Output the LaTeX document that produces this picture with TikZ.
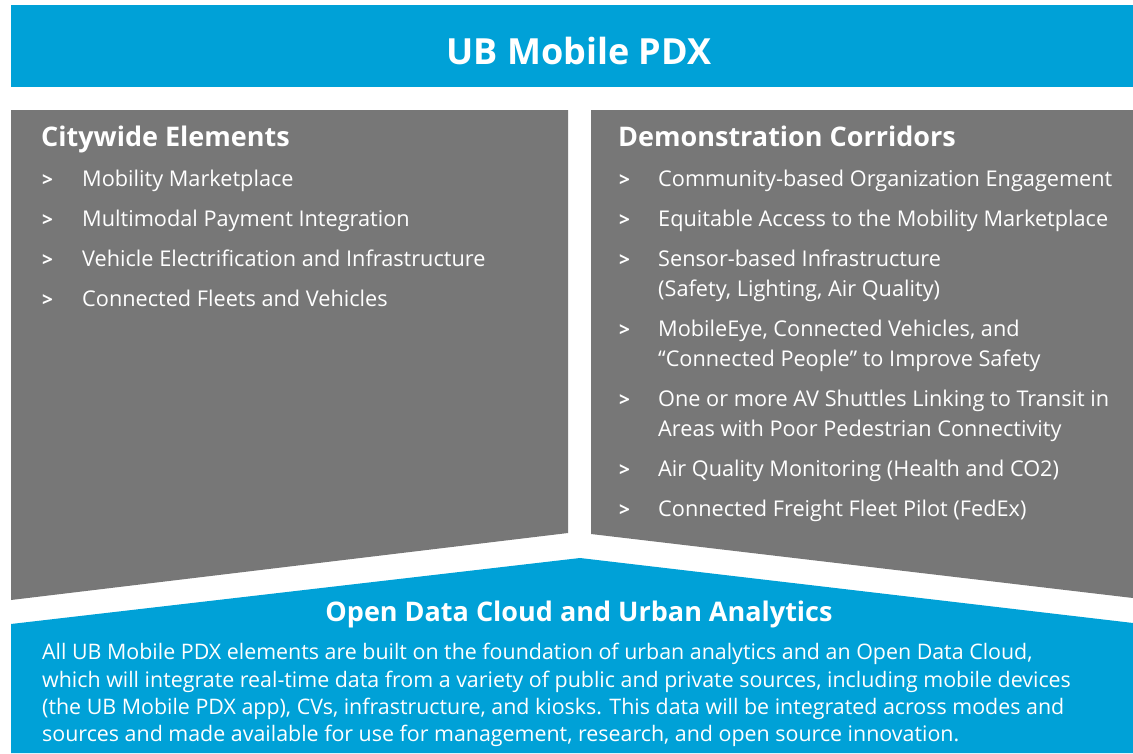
\documentclass[tikz,border=0pt]{standalone}
\usepackage{fontspec}
\setmainfont{Open Sans}
\definecolor{pdxblue}{RGB}{0,161,215}
\definecolor{pdxgray}{RGB}{119,119,119}
\begin{document}
\begin{tikzpicture}[x=1pt,y=-1pt,
  txt/.style={anchor=base west,text=white,inner sep=0pt},
  itemtxt/.style={txt,font=\fontsize{21.7}{26}\selectfont},
  marker/.style={txt,font=\bfseries\fontsize{19}{24}\selectfont},
  heading/.style={txt,font=\bfseries\fontsize{27}{34}\selectfont},
  bodytxt/.style={txt,font=\fontsize{21.4}{26}\selectfont}]
\useasboundingbox (0,0) rectangle (1133,753);
\fill[white] (0,0) rectangle (1133,753);
% banner and panels
\fill[pdxblue] (11,5) rectangle (1133,87);
\fill[pdxgray] (11,110) -- (568,110) -- (568,533) -- (11,600) -- cycle;
\fill[pdxgray] (591,110) -- (1133,110) -- (1133,598) -- (591,534) -- cycle;
\fill[pdxblue] (11,624) -- (580,558) -- (1133,623) -- (1133,753) -- (11,753) -- cycle;
% title
\node[anchor=base,text=white,inner sep=0pt,font=\bfseries\fontsize{36}{44}\selectfont] (title) at (579,64) {UB Mobile PDX};
% left panel
\node[heading] (lhead) at (41,146) {Citywide Elements};
\foreach \y/\t [count=\i] in {186/Mobility Marketplace,226/Multimodal Payment Integration,266/Vehicle Electrification and Infrastructure,306/Connected Fleets and Vehicles}{
  \node[marker] (lm\i) at (42,\y) {>};
  \node[itemtxt] (li\i) at (82,\y) {\t};
}
% right panel
\node[heading] (rhead) at (618,146) {Demonstration Corridors};
\foreach \y [count=\i] in {186,226,266,336,406,476,516}{
  \node[marker] (rm\i) at (619,\y) {>};
}
\node[itemtxt] (ri1) at (658,186) {Community-based Organization Engagement};
\node[itemtxt] (ri2) at (658,226) {Equitable Access to the Mobility Marketplace};
\node[itemtxt] (ri3) at (658,266) {Sensor-based Infrastructure};
\node[itemtxt] (ri3b) at (658,296) {(Safety, Lighting, Air Quality)};
\node[itemtxt] (ri4) at (658,336) {MobileEye, Connected Vehicles, and};
\node[itemtxt] (ri4b) at (658,366) {“Connected People” to Improve Safety};
\node[itemtxt] (ri5) at (658,406) {One or more AV Shuttles Linking to Transit in};
\node[itemtxt] (ri5b) at (658,436) {Areas with Poor Pedestrian Connectivity};
\node[itemtxt] (ri6) at (658,476) {Air Quality Monitoring (Health and CO2)};
\node[itemtxt] (ri7) at (658,516) {Connected Freight Fleet Pilot (FedEx)};
% bottom band
\node[anchor=base,text=white,inner sep=0pt,font=\bfseries\fontsize{27}{34}\selectfont] (bhead) at (579,621) {Open Data Cloud and Urban Analytics};
\node[bodytxt] (b1) at (42,659) {All UB Mobile PDX elements are built on the foundation of urban analytics and an Open Data Cloud,};
\node[bodytxt] (b2) at (42,687) {which will integrate real-time data from a variety of public and private sources, including mobile devices};
\node[bodytxt] (b3) at (42,714) {(the UB Mobile PDX app), CVs, infrastructure, and kiosks. This data will be integrated across modes and};
\node[bodytxt] (b4) at (42,741) {sources and made available for use for management, research, and open source innovation.};
\end{tikzpicture}
\end{document}
